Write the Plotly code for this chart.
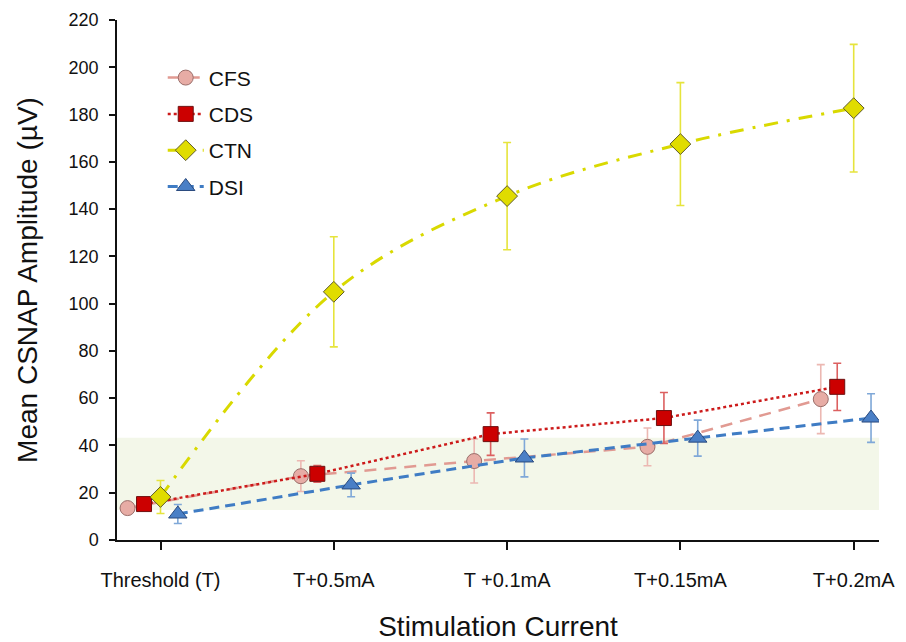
import plotly.graph_objects as go

categories = ["Threshold (T)", "T+0.5mA", "T +0.1mA", "T+0.15mA", "T+0.2mA"]

cfs_mean = [13.5, 27.0, 33.4, 39.4, 59.6]
cfs_err = [0.8, 6.5, 9.3, 8.0, 14.6]

cds_mean = [15.2, 28.0, 44.8, 51.6, 64.8]
cds_err = [0.8, 3.5, 9.0, 10.8, 10.0]

ctn_mean = [18.2, 105.0, 145.5, 167.5, 182.7]
ctn_err = [7.0, 23.3, 22.7, 26.0, 27.0]

dsi_mean = [11.0, 23.3, 34.7, 43.1, 51.6]
dsi_err = [4.0, 5.0, 8.0, 7.6, 10.3]

band_low, band_high = 12.7, 43.3

# layout: horizontal offset of each series within a category slot
series = [
    dict(name="CFS", y=cfs_mean, e=cfs_err, off=-0.19, symbol="circle", size=15,
         fill="#e7aca5", edge="#9a6e6a", line="#e19a92", dash="12px,8px", lw=2.5,
         ecol="#ecb8b2", shape="linear"),
    dict(name="CDS", y=cds_mean, e=cds_err, off=-0.095, symbol="square", size=15,
         fill="#cc0000", edge="#6e1010", line="#cc1a1a", dash="dot", lw=2.5,
         ecol="#dc6060", shape="linear"),
    dict(name="CTN", y=ctn_mean, e=ctn_err, off=0.0, symbol="diamond", size=16,
         fill="#e0dc00", edge="#5e5a2a", line="#d9d900", dash="14px,9px,3px,9px", lw=3,
         ecol="#e6e43c", shape="spline"),
    dict(name="DSI", y=dsi_mean, e=dsi_err, off=0.10, symbol="triangle-up", size=16,
         fill="#4a7fc6", edge="#2a4a7e", line="#3f7cc4", dash="10px,6px", lw=3,
         ecol="#7fa8d8", shape="linear"),
]

fig = go.Figure()
for s in series:
    xs = [i + s["off"] for i in range(len(categories))]
    fig.add_trace(go.Scatter(
        x=xs, y=s["y"], name=s["name"], mode="lines+markers",
        legendgroup=s["name"],
        line=dict(color=s["line"], width=s["lw"], dash=s["dash"], shape=s["shape"]),
        marker=dict(symbol=s["symbol"], size=s["size"], color=s["fill"],
                    line=dict(color=s["edge"], width=1)),
        error_y=dict(type="data", array=s["e"], visible=True, color=s["ecol"],
                     thickness=1.6, width=4),
    ))

fig.add_shape(type="rect", xref="paper", yref="y", x0=0, x1=1,
              y0=band_low, y1=band_high, fillcolor="#f3f7e9",
              line=dict(width=0), layer="below")

fig.update_layout(
    width=906, height=642,
    margin=dict(l=117, r=27, t=20, b=102, autoexpand=False),
    paper_bgcolor="white", plot_bgcolor="white",
    font=dict(family="Arial, Liberation Sans, sans-serif", color="#111111"),
    legend=dict(x=0.06, y=0.928, xanchor="left", yanchor="top",
                font=dict(size=21, color="#111111"), tracegroupgap=6,
                traceorder="grouped", bgcolor="rgba(0,0,0,0)", itemwidth=36),
    showlegend=True,
)

fig.update_xaxes(
    range=[-0.251, 4.146], tickmode="array", tickvals=list(range(len(categories))),
    ticktext=categories, showgrid=False, zeroline=False, automargin=False,
    showline=True, linecolor="#111111", linewidth=1.5,
    ticks="outside", ticklen=8, tickwidth=1.5, tickcolor="#111111",
    tickfont=dict(size=20), ticklabelstandoff=13,
    title=dict(text="Stimulation Current", font=dict(size=28), standoff=29),
)
fig.update_yaxes(
    range=[0, 220], tickmode="linear", dtick=20, tick0=0,
    showgrid=False, zeroline=False, automargin=False,
    showline=True, linecolor="#111111", linewidth=1.5,
    ticks="outside", ticklen=6, tickwidth=1.5, tickcolor="#111111",
    tickfont=dict(size=18), ticklabelstandoff=7,
    title=dict(text="Mean CSNAP Amplitude (µV)", font=dict(size=28), standoff=23),
)

fig.write_html("out.html")
